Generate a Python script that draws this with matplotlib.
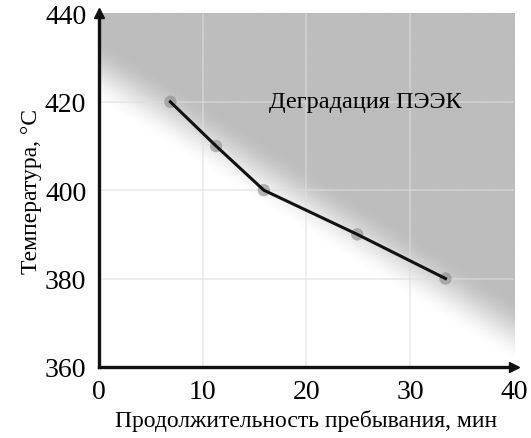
import numpy as np
import matplotlib
matplotlib.use("Agg")
import matplotlib.pyplot as plt

plt.rcParams["font.family"] = ["Liberation Serif", "DejaVu Serif"]

# data
time_min = [6.9, 11.3, 15.9, 24.9, 33.4]
temp_c = [420, 410, 400, 390, 380]
x_ticks = [0, 10, 20, 30, 40]
y_ticks = [360, 380, 400, 420, 440]
region_label = "Деградация ПЭЭК"

fig = plt.figure(figsize=(5.31, 4.39), dpi=100)
ax = fig.add_axes([0.186, 0.162, 0.782, 0.805])
ax.set_xlim(0, 40)
ax.set_ylim(360, 440)

# soft gray "degradation" zone above a diagonal boundary
gx, gy = np.meshgrid(np.linspace(0, 40, 400), np.linspace(360, 440, 400))
d = (gy - (427.0 - 1.48 * gx)) / 15.0 + 0.5
t = np.clip(d, 0, 1)
t = t * t * (3 - 2 * t)
gray = 1.0 - (1.0 - 0.74) * t
ax.imshow(gray, extent=(0, 40, 360, 440), origin="lower", cmap="gray",
          vmin=0, vmax=1, aspect="auto", zorder=0, interpolation="bilinear")

for xv in x_ticks[1:-1]:
    ax.axvline(xv, color="#dedede", lw=1.2, alpha=0.6, zorder=1)
for yv in y_ticks[1:-1]:
    ax.axhline(yv, color="#dedede", lw=1.2, alpha=0.6, zorder=1)

ax.scatter(time_min, temp_c, s=80, color="#8a8a8a", alpha=0.6, zorder=2,
           edgecolors="none")
ax.plot(time_min, temp_c, color="#111111", lw=2.2, zorder=3)

ax.text(16.4, 420, region_label, fontsize=17.5, va="center", ha="left", zorder=4)

for s in ["top", "right"]:
    ax.spines[s].set_visible(False)
for s in ["left", "bottom"]:
    ax.spines[s].set_linewidth(2.4)
    ax.spines[s].set_color("#111111")
ax.plot(0, 1, "^", color="#111111", ms=7, transform=ax.transAxes, clip_on=False)
ax.plot(1, 0, ">", color="#111111", ms=7, transform=ax.transAxes, clip_on=False)

ax.set_xticks(x_ticks)
ax.set_yticks(y_ticks)
ax.tick_params(length=0, labelsize=20, pad=9)
ax.set_xlabel("Продолжительность пребывания, мин", fontsize=17, labelpad=3)
ax.set_ylabel("Температура, °С", fontsize=17, labelpad=2)

fig.savefig("out.png", dpi=100)
